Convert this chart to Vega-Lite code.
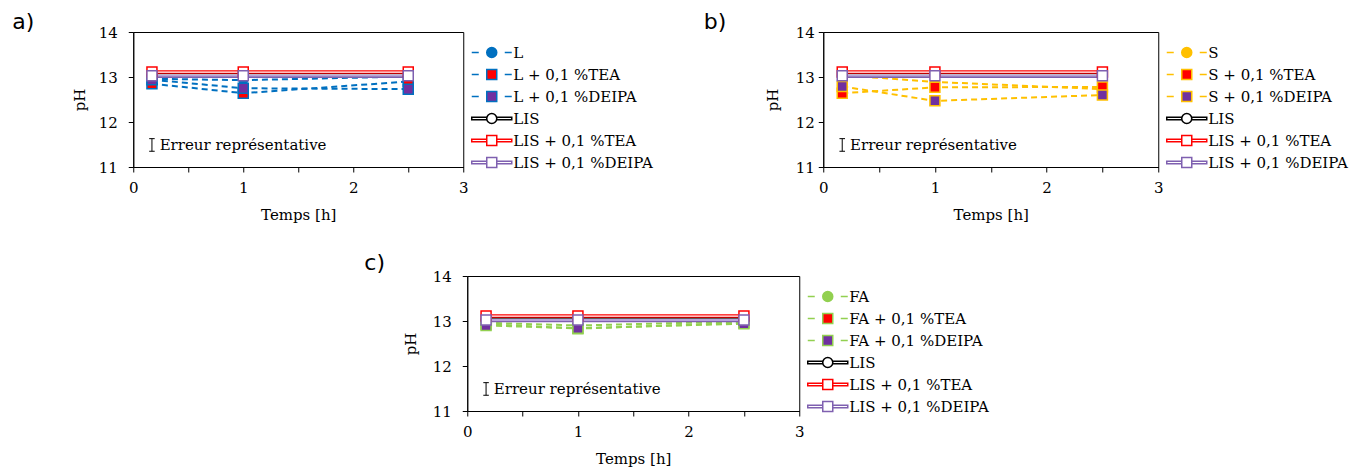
{
  "$schema": "https://vega.github.io/schema/vega-lite/v6.json",
  "background": "white",
  "padding": {"left": 11, "top": 10, "right": 0, "bottom": 0},
  "config": {
    "font": "DejaVu Serif",
    "view": {"stroke": "black", "strokeWidth": 1},
    "axis": {"grid": false, "labelFlush": false, "tickSize": 5, "domainColor": "black", "tickColor": "black", "labelColor": "black", "titleColor": "black", "labelFont": "DejaVu Serif", "labelFontSize": 15, "titleFont": "DejaVu Serif", "titleFontSize": 15, "titleFontWeight": "normal", "labelPadding": 4},
    "axisX": {"labelPadding": 8, "titlePadding": 12},
    "axisY": {"titlePadding": 13},
    "legend": {"title": null, "orient": "right", "offset": -7, "padding": 13, "labelFont": "DejaVu Serif", "labelFontSize": 15, "labelColor": "black", "symbolSize": 100, "symbolStrokeWidth": 1.5, "labelOffset": 29, "rowPadding": 5}
  },
  "datasets": {
    "ph": [
      {"panel": "a", "series": "L", "t": 0.17, "pH": 12.96},
      {"panel": "a", "series": "L", "t": 1, "pH": 12.93},
      {"panel": "a", "series": "L", "t": 2.5, "pH": 13.01},
      {"panel": "a", "series": "L + 0,1 %TEA", "t": 0.17, "pH": 12.85},
      {"panel": "a", "series": "L + 0,1 %TEA", "t": 1, "pH": 12.64},
      {"panel": "a", "series": "L + 0,1 %TEA", "t": 2.5, "pH": 12.9},
      {"panel": "a", "series": "L + 0,1 %DEIPA", "t": 0.17, "pH": 12.94},
      {"panel": "a", "series": "L + 0,1 %DEIPA", "t": 1, "pH": 12.75},
      {"panel": "a", "series": "L + 0,1 %DEIPA", "t": 2.5, "pH": 12.73},
      {"panel": "a", "series": "LIS", "t": 0.17, "pH": 13.05},
      {"panel": "a", "series": "LIS", "t": 1, "pH": 13.05},
      {"panel": "a", "series": "LIS", "t": 2.5, "pH": 13.05},
      {"panel": "a", "series": "LIS + 0,1 %TEA", "t": 0.17, "pH": 13.11},
      {"panel": "a", "series": "LIS + 0,1 %TEA", "t": 1, "pH": 13.11},
      {"panel": "a", "series": "LIS + 0,1 %TEA", "t": 2.5, "pH": 13.11},
      {"panel": "a", "series": "LIS + 0,1 %DEIPA", "t": 0.17, "pH": 13.03},
      {"panel": "a", "series": "LIS + 0,1 %DEIPA", "t": 1, "pH": 13.03},
      {"panel": "a", "series": "LIS + 0,1 %DEIPA", "t": 2.5, "pH": 13.03},
      {"panel": "b", "series": "S", "t": 0.17, "pH": 13.04},
      {"panel": "b", "series": "S", "t": 1, "pH": 12.89},
      {"panel": "b", "series": "S", "t": 2.5, "pH": 12.73},
      {"panel": "b", "series": "S + 0,1 %TEA", "t": 0.17, "pH": 12.64},
      {"panel": "b", "series": "S + 0,1 %TEA", "t": 1, "pH": 12.77},
      {"panel": "b", "series": "S + 0,1 %TEA", "t": 2.5, "pH": 12.78},
      {"panel": "b", "series": "S + 0,1 %DEIPA", "t": 0.17, "pH": 12.79},
      {"panel": "b", "series": "S + 0,1 %DEIPA", "t": 1, "pH": 12.47},
      {"panel": "b", "series": "S + 0,1 %DEIPA", "t": 2.5, "pH": 12.6},
      {"panel": "b", "series": "LIS", "t": 0.17, "pH": 13.05},
      {"panel": "b", "series": "LIS", "t": 1, "pH": 13.05},
      {"panel": "b", "series": "LIS", "t": 2.5, "pH": 13.05},
      {"panel": "b", "series": "LIS + 0,1 %TEA", "t": 0.17, "pH": 13.11},
      {"panel": "b", "series": "LIS + 0,1 %TEA", "t": 1, "pH": 13.11},
      {"panel": "b", "series": "LIS + 0,1 %TEA", "t": 2.5, "pH": 13.11},
      {"panel": "b", "series": "LIS + 0,1 %DEIPA", "t": 0.17, "pH": 13.03},
      {"panel": "b", "series": "LIS + 0,1 %DEIPA", "t": 1, "pH": 13.03},
      {"panel": "b", "series": "LIS + 0,1 %DEIPA", "t": 2.5, "pH": 13.03},
      {"panel": "c", "series": "FA", "t": 0.17, "pH": 12.96},
      {"panel": "c", "series": "FA", "t": 1, "pH": 12.9},
      {"panel": "c", "series": "FA", "t": 2.5, "pH": 12.99},
      {"panel": "c", "series": "FA + 0,1 %TEA", "t": 0.17, "pH": 12.93},
      {"panel": "c", "series": "FA + 0,1 %TEA", "t": 1, "pH": 12.83},
      {"panel": "c", "series": "FA + 0,1 %TEA", "t": 2.5, "pH": 12.96},
      {"panel": "c", "series": "FA + 0,1 %DEIPA", "t": 0.17, "pH": 12.9},
      {"panel": "c", "series": "FA + 0,1 %DEIPA", "t": 1, "pH": 12.84},
      {"panel": "c", "series": "FA + 0,1 %DEIPA", "t": 2.5, "pH": 12.94},
      {"panel": "c", "series": "LIS", "t": 0.17, "pH": 13.05},
      {"panel": "c", "series": "LIS", "t": 1, "pH": 13.05},
      {"panel": "c", "series": "LIS", "t": 2.5, "pH": 13.05},
      {"panel": "c", "series": "LIS + 0,1 %TEA", "t": 0.17, "pH": 13.11},
      {"panel": "c", "series": "LIS + 0,1 %TEA", "t": 1, "pH": 13.11},
      {"panel": "c", "series": "LIS + 0,1 %TEA", "t": 2.5, "pH": 13.11},
      {"panel": "c", "series": "LIS + 0,1 %DEIPA", "t": 0.17, "pH": 13.02},
      {"panel": "c", "series": "LIS + 0,1 %DEIPA", "t": 1, "pH": 13.02},
      {"panel": "c", "series": "LIS + 0,1 %DEIPA", "t": 2.5, "pH": 13.02}
    ]
  },
  "center": true,
  "spacing": 28,
  "resolve": {"scale": {"fill": "independent", "stroke": "independent", "shape": "independent"}, "legend": {"fill": "independent", "stroke": "independent", "shape": "independent"}},
  "vconcat": [
    {
      "hconcat": [
        {
          "width": 330, "height": 135,
          "layer": [
            {
              "data": {"name": "ph"},
              "transform": [{"filter": "datum.panel == 'a'"}],
              "encoding": {
                "x": {"field": "t", "type": "quantitative", "scale": {"domain": [0, 3], "nice": false}, "axis": {"title": "Temps [h]", "values": [0, 0.5, 1, 1.5, 2, 2.5, 3], "labelExpr": "datum.value % 1 == 0 ? format(datum.value, 'd') : ''"}},
                "y": {"field": "pH", "type": "quantitative", "scale": {"domain": [11, 14], "nice": false, "zero": false}, "axis": {"title": "pH", "titlePadding": 11, "labelPadding": 11, "values": [11, 11.5, 12, 12.5, 13, 13.5, 14], "labelExpr": "datum.value % 1 == 0 ? format(datum.value, 'd') : ''"}}
              },
              "layer": [
                {"transform": [{"filter": "false"}], "mark": {"type": "point", "filled": true, "strokeWidth": 1.5, "opacity": 1},
                 "encoding": {
                   "shape": {"field": "series", "type": "nominal", "scale": {"domain": ["L", "L + 0,1 %TEA", "L + 0,1 %DEIPA", "LIS", "LIS + 0,1 %TEA", "LIS + 0,1 %DEIPA"], "range": ["M-1,0H0.4M5.6,0H7M4,0A1,1,0,1,1,2,0A1,1,0,1,1,4,0Z", "M-1,0H0.4M5.6,0H7M2,-1H4V1H2Z", "M-1,0H0.4M5.6,0H7M2,-1H4V1H2Z", "M-1,-0.25H2V0.25H-1ZM4,-0.25H7V0.25H4ZM4,0A1,1,0,1,1,2,0A1,1,0,1,1,4,0Z", "M-1,-0.25H2V0.25H-1ZM4,-0.25H7V0.25H4ZM2,-1H4V1H2Z", "M-1,-0.25H2V0.25H-1ZM4,-0.25H7V0.25H4ZM2,-1H4V1H2Z"]}, "legend": {"labelFont": "DejaVu Serif", "labelFontSize": 15, "encode": {"symbols": {"strokeDash": {"value": [1, 0]}, "opacity": {"value": 1}}}}},
                   "fill": {"field": "series", "type": "nominal", "scale": {"domain": ["L", "L + 0,1 %TEA", "L + 0,1 %DEIPA", "LIS", "LIS + 0,1 %TEA", "LIS + 0,1 %DEIPA"], "range": ["#0070C0", "#FF0000", "#7030A0", "#FFFFFF", "#FFFFFF", "#FFFFFF"]}, "legend": {"labelFont": "DejaVu Serif", "labelFontSize": 15, "encode": {"symbols": {"strokeDash": {"value": [1, 0]}, "opacity": {"value": 1}}}}},
                   "stroke": {"field": "series", "type": "nominal", "scale": {"domain": ["L", "L + 0,1 %TEA", "L + 0,1 %DEIPA", "LIS", "LIS + 0,1 %TEA", "LIS + 0,1 %DEIPA"], "range": ["#0070C0", "#0070C0", "#0070C0", "#000000", "#FF0000", "#7F60B0"]}, "legend": {"labelFont": "DejaVu Serif", "labelFontSize": 15, "encode": {"symbols": {"strokeDash": {"value": [1, 0]}, "opacity": {"value": 1}}}}}
                 }},
                {"transform": [{"filter": "!test(/^LIS/, datum.series)"}], "mark": {"type": "line", "strokeDash": [6, 4], "strokeWidth": 2}, "encoding": {"stroke": {"field": "series", "type": "nominal"}}},
                {"transform": [{"filter": "datum.series == 'LIS + 0,1 %DEIPA'"}], "mark": {"type": "line", "strokeWidth": 4.5}, "encoding": {"stroke": {"field": "series", "type": "nominal"}}},
                {"transform": [{"filter": "datum.series == 'LIS'"}], "mark": {"type": "line", "strokeWidth": 3.5}, "encoding": {"stroke": {"field": "series", "type": "nominal"}}},
                {"transform": [{"filter": "datum.series == 'LIS + 0,1 %TEA'"}], "mark": {"type": "line", "strokeWidth": 3.5}, "encoding": {"stroke": {"field": "series", "type": "nominal"}}},
                {"transform": [{"filter": "datum.series == 'LIS' || datum.series == 'LIS + 0,1 %TEA'"}], "mark": {"type": "line", "strokeWidth": 1.2, "color": "white"}, "encoding": {"detail": {"field": "series", "type": "nominal"}}},
                {"transform": [{"filter": "datum.series == 'LIS + 0,1 %DEIPA'"}], "mark": {"type": "line", "strokeWidth": 2, "color": "#B7A2DC"}, "encoding": {}},
                {"transform": [{"filter": "datum.series == 'L'"}], "mark": {"type": "point", "shape": "circle", "filled": true, "size": 70, "strokeWidth": 1.5, "opacity": 1}, "encoding": {"fill": {"field": "series", "type": "nominal"}, "stroke": {"field": "series", "type": "nominal"}}},
                {"transform": [{"filter": "!test(/^LIS/, datum.series) && datum.series != 'L'"}], "mark": {"type": "point", "shape": "square", "filled": true, "size": 100, "strokeWidth": 1.5, "opacity": 1}, "encoding": {"fill": {"field": "series", "type": "nominal"}, "stroke": {"field": "series", "type": "nominal"}}},
                {"transform": [{"filter": "datum.series == 'LIS'"}], "mark": {"type": "point", "shape": "circle", "filled": true, "size": 70, "strokeWidth": 1.5, "opacity": 1}, "encoding": {"fill": {"field": "series", "type": "nominal"}, "stroke": {"field": "series", "type": "nominal"}}},
                {"transform": [{"filter": "test(/^LIS /, datum.series)"}], "mark": {"type": "point", "shape": "square", "filled": true, "size": 100, "strokeWidth": 1.5, "opacity": 1}, "encoding": {"fill": {"field": "series", "type": "nominal"}, "stroke": {"field": "series", "type": "nominal"}}}
              ]
            },
            {
              "data": {"values": [{"note": "Erreur représentative", "tag": "a)"}]},
              "layer": [
                {"mark": {"type": "rule", "color": "black", "strokeWidth": 1}, "encoding": {"x": {"datum": 0.17, "type": "quantitative"}, "y": {"datum": 11.35, "type": "quantitative"}, "y2": {"datum": 11.63}}},
                {"mark": {"type": "rule", "color": "black", "strokeWidth": 1}, "encoding": {"x": {"datum": 0.145, "type": "quantitative"}, "x2": {"datum": 0.195}, "y": {"datum": 11.35, "type": "quantitative"}}},
                {"mark": {"type": "rule", "color": "black", "strokeWidth": 1}, "encoding": {"x": {"datum": 0.145, "type": "quantitative"}, "x2": {"datum": 0.195}, "y": {"datum": 11.63, "type": "quantitative"}}},
                {"mark": {"type": "text", "align": "left", "baseline": "middle", "fontSize": 15, "font": "DejaVu Serif", "color": "black"}, "encoding": {"x": {"datum": 0.24, "type": "quantitative"}, "y": {"datum": 11.48, "type": "quantitative"}, "text": {"field": "note"}}},
                {"mark": {"type": "text", "align": "left", "baseline": "alphabetic", "fontSize": 22, "font": "DejaVu Sans", "color": "black"}, "encoding": {"x": {"datum": -1.1, "type": "quantitative"}, "y": {"datum": 14.07, "type": "quantitative"}, "text": {"field": "tag"}}}
              ]
            }
          ]
        },
        {
          "width": 335, "height": 135,
          "layer": [
            {
              "data": {"name": "ph"},
              "transform": [{"filter": "datum.panel == 'b'"}],
              "encoding": {
                "x": {"field": "t", "type": "quantitative", "scale": {"domain": [0, 3], "nice": false}, "axis": {"title": "Temps [h]", "values": [0, 0.5, 1, 1.5, 2, 2.5, 3], "labelExpr": "datum.value % 1 == 0 ? format(datum.value, 'd') : ''"}},
                "y": {"field": "pH", "type": "quantitative", "scale": {"domain": [11, 14], "nice": false, "zero": false}, "axis": {"title": "pH", "titlePadding": 15, "values": [11, 11.5, 12, 12.5, 13, 13.5, 14], "labelExpr": "datum.value % 1 == 0 ? format(datum.value, 'd') : ''"}}
              },
              "layer": [
                {"transform": [{"filter": "false"}], "mark": {"type": "point", "filled": true, "strokeWidth": 1.5, "opacity": 1},
                 "encoding": {
                   "shape": {"field": "series", "type": "nominal", "scale": {"domain": ["S", "S + 0,1 %TEA", "S + 0,1 %DEIPA", "LIS", "LIS + 0,1 %TEA", "LIS + 0,1 %DEIPA"], "range": ["M-1,0H0.4M5.6,0H7M4,0A1,1,0,1,1,2,0A1,1,0,1,1,4,0Z", "M-1,0H0.4M5.6,0H7M2,-1H4V1H2Z", "M-1,0H0.4M5.6,0H7M2,-1H4V1H2Z", "M-1,-0.25H2V0.25H-1ZM4,-0.25H7V0.25H4ZM4,0A1,1,0,1,1,2,0A1,1,0,1,1,4,0Z", "M-1,-0.25H2V0.25H-1ZM4,-0.25H7V0.25H4ZM2,-1H4V1H2Z", "M-1,-0.25H2V0.25H-1ZM4,-0.25H7V0.25H4ZM2,-1H4V1H2Z"]}, "legend": {"labelFont": "DejaVu Serif", "labelFontSize": 15, "encode": {"symbols": {"strokeDash": {"value": [1, 0]}, "opacity": {"value": 1}}}}},
                   "fill": {"field": "series", "type": "nominal", "scale": {"domain": ["S", "S + 0,1 %TEA", "S + 0,1 %DEIPA", "LIS", "LIS + 0,1 %TEA", "LIS + 0,1 %DEIPA"], "range": ["#FFC000", "#FF0000", "#7030A0", "#FFFFFF", "#FFFFFF", "#FFFFFF"]}, "legend": {"labelFont": "DejaVu Serif", "labelFontSize": 15, "encode": {"symbols": {"strokeDash": {"value": [1, 0]}, "opacity": {"value": 1}}}}},
                   "stroke": {"field": "series", "type": "nominal", "scale": {"domain": ["S", "S + 0,1 %TEA", "S + 0,1 %DEIPA", "LIS", "LIS + 0,1 %TEA", "LIS + 0,1 %DEIPA"], "range": ["#FFC000", "#FFC000", "#FFC000", "#000000", "#FF0000", "#7F60B0"]}, "legend": {"labelFont": "DejaVu Serif", "labelFontSize": 15, "encode": {"symbols": {"strokeDash": {"value": [1, 0]}, "opacity": {"value": 1}}}}}
                 }},
                {"transform": [{"filter": "!test(/^LIS/, datum.series)"}], "mark": {"type": "line", "strokeDash": [6, 4], "strokeWidth": 2}, "encoding": {"stroke": {"field": "series", "type": "nominal"}}},
                {"transform": [{"filter": "datum.series == 'LIS + 0,1 %DEIPA'"}], "mark": {"type": "line", "strokeWidth": 4.5}, "encoding": {"stroke": {"field": "series", "type": "nominal"}}},
                {"transform": [{"filter": "datum.series == 'LIS'"}], "mark": {"type": "line", "strokeWidth": 3.5}, "encoding": {"stroke": {"field": "series", "type": "nominal"}}},
                {"transform": [{"filter": "datum.series == 'LIS + 0,1 %TEA'"}], "mark": {"type": "line", "strokeWidth": 3.5}, "encoding": {"stroke": {"field": "series", "type": "nominal"}}},
                {"transform": [{"filter": "datum.series == 'LIS' || datum.series == 'LIS + 0,1 %TEA'"}], "mark": {"type": "line", "strokeWidth": 1.2, "color": "white"}, "encoding": {"detail": {"field": "series", "type": "nominal"}}},
                {"transform": [{"filter": "datum.series == 'LIS + 0,1 %DEIPA'"}], "mark": {"type": "line", "strokeWidth": 2, "color": "#B7A2DC"}, "encoding": {}},
                {"transform": [{"filter": "datum.series == 'S'"}], "mark": {"type": "point", "shape": "circle", "filled": true, "size": 70, "strokeWidth": 1.5, "opacity": 1}, "encoding": {"fill": {"field": "series", "type": "nominal"}, "stroke": {"field": "series", "type": "nominal"}}},
                {"transform": [{"filter": "!test(/^LIS/, datum.series) && datum.series != 'S'"}], "mark": {"type": "point", "shape": "square", "filled": true, "size": 100, "strokeWidth": 1.5, "opacity": 1}, "encoding": {"fill": {"field": "series", "type": "nominal"}, "stroke": {"field": "series", "type": "nominal"}}},
                {"transform": [{"filter": "datum.series == 'LIS'"}], "mark": {"type": "point", "shape": "circle", "filled": true, "size": 70, "strokeWidth": 1.5, "opacity": 1}, "encoding": {"fill": {"field": "series", "type": "nominal"}, "stroke": {"field": "series", "type": "nominal"}}},
                {"transform": [{"filter": "test(/^LIS /, datum.series)"}], "mark": {"type": "point", "shape": "square", "filled": true, "size": 100, "strokeWidth": 1.5, "opacity": 1}, "encoding": {"fill": {"field": "series", "type": "nominal"}, "stroke": {"field": "series", "type": "nominal"}}}
              ]
            },
            {
              "data": {"values": [{"note": "Erreur représentative", "tag": "b)"}]},
              "layer": [
                {"mark": {"type": "rule", "color": "black", "strokeWidth": 1}, "encoding": {"x": {"datum": 0.17, "type": "quantitative"}, "y": {"datum": 11.35, "type": "quantitative"}, "y2": {"datum": 11.63}}},
                {"mark": {"type": "rule", "color": "black", "strokeWidth": 1}, "encoding": {"x": {"datum": 0.145, "type": "quantitative"}, "x2": {"datum": 0.195}, "y": {"datum": 11.35, "type": "quantitative"}}},
                {"mark": {"type": "rule", "color": "black", "strokeWidth": 1}, "encoding": {"x": {"datum": 0.145, "type": "quantitative"}, "x2": {"datum": 0.195}, "y": {"datum": 11.63, "type": "quantitative"}}},
                {"mark": {"type": "text", "align": "left", "baseline": "middle", "fontSize": 15, "font": "DejaVu Serif", "color": "black"}, "encoding": {"x": {"datum": 0.24, "type": "quantitative"}, "y": {"datum": 11.48, "type": "quantitative"}, "text": {"field": "note"}}},
                {"mark": {"type": "text", "align": "left", "baseline": "alphabetic", "fontSize": 22, "font": "DejaVu Sans", "color": "black"}, "encoding": {"x": {"datum": -1.07, "type": "quantitative"}, "y": {"datum": 14.07, "type": "quantitative"}, "text": {"field": "tag"}}}
              ]
            }
          ]
        }
      ],
      "spacing": 36,
      "resolve": {"scale": {"fill": "independent", "stroke": "independent", "shape": "independent"}, "legend": {"fill": "independent", "stroke": "independent", "shape": "independent"}}
    },
    {
      "width": 332, "height": 135,
      "layer": [
        {
          "data": {"name": "ph"},
          "transform": [{"filter": "datum.panel == 'c'"}],
          "encoding": {
            "x": {"field": "t", "type": "quantitative", "scale": {"domain": [0, 3], "nice": false}, "axis": {"title": "Temps [h]", "values": [0, 0.5, 1, 1.5, 2, 2.5, 3], "labelExpr": "datum.value % 1 == 0 ? format(datum.value, 'd') : ''"}},
            "y": {"field": "pH", "type": "quantitative", "scale": {"domain": [11, 14], "nice": false, "zero": false}, "axis": {"title": "pH", "titlePadding": 14, "labelPadding": 11, "values": [11, 11.5, 12, 12.5, 13, 13.5, 14], "labelExpr": "datum.value % 1 == 0 ? format(datum.value, 'd') : ''"}}
          },
          "layer": [
            {"transform": [{"filter": "false"}], "mark": {"type": "point", "filled": true, "strokeWidth": 1.5, "opacity": 1},
             "encoding": {
               "shape": {"field": "series", "type": "nominal", "scale": {"domain": ["FA", "FA + 0,1 %TEA", "FA + 0,1 %DEIPA", "LIS", "LIS + 0,1 %TEA", "LIS + 0,1 %DEIPA"], "range": ["M-1,0H0.4M5.6,0H7M4,0A1,1,0,1,1,2,0A1,1,0,1,1,4,0Z", "M-1,0H0.4M5.6,0H7M2,-1H4V1H2Z", "M-1,0H0.4M5.6,0H7M2,-1H4V1H2Z", "M-1,-0.25H2V0.25H-1ZM4,-0.25H7V0.25H4ZM4,0A1,1,0,1,1,2,0A1,1,0,1,1,4,0Z", "M-1,-0.25H2V0.25H-1ZM4,-0.25H7V0.25H4ZM2,-1H4V1H2Z", "M-1,-0.25H2V0.25H-1ZM4,-0.25H7V0.25H4ZM2,-1H4V1H2Z"]}, "legend": {"labelFont": "DejaVu Serif", "labelFontSize": 15, "encode": {"symbols": {"strokeDash": {"value": [1, 0]}, "opacity": {"value": 1}}}}},
               "fill": {"field": "series", "type": "nominal", "scale": {"domain": ["FA", "FA + 0,1 %TEA", "FA + 0,1 %DEIPA", "LIS", "LIS + 0,1 %TEA", "LIS + 0,1 %DEIPA"], "range": ["#92D050", "#FF0000", "#7030A0", "#FFFFFF", "#FFFFFF", "#FFFFFF"]}, "legend": {"labelFont": "DejaVu Serif", "labelFontSize": 15, "encode": {"symbols": {"strokeDash": {"value": [1, 0]}, "opacity": {"value": 1}}}}},
               "stroke": {"field": "series", "type": "nominal", "scale": {"domain": ["FA", "FA + 0,1 %TEA", "FA + 0,1 %DEIPA", "LIS", "LIS + 0,1 %TEA", "LIS + 0,1 %DEIPA"], "range": ["#92D050", "#92D050", "#92D050", "#000000", "#FF0000", "#7F60B0"]}, "legend": {"labelFont": "DejaVu Serif", "labelFontSize": 15, "encode": {"symbols": {"strokeDash": {"value": [1, 0]}, "opacity": {"value": 1}}}}}
             }},
            {"transform": [{"filter": "!test(/^LIS/, datum.series)"}], "mark": {"type": "line", "strokeDash": [6, 4], "strokeWidth": 2}, "encoding": {"stroke": {"field": "series", "type": "nominal"}}},
            {"transform": [{"filter": "datum.series == 'LIS + 0,1 %DEIPA'"}], "mark": {"type": "line", "strokeWidth": 4.5}, "encoding": {"stroke": {"field": "series", "type": "nominal"}}},
            {"transform": [{"filter": "datum.series == 'LIS'"}], "mark": {"type": "line", "strokeWidth": 3.5}, "encoding": {"stroke": {"field": "series", "type": "nominal"}}},
            {"transform": [{"filter": "datum.series == 'LIS + 0,1 %TEA'"}], "mark": {"type": "line", "strokeWidth": 3.5}, "encoding": {"stroke": {"field": "series", "type": "nominal"}}},
            {"transform": [{"filter": "datum.series == 'LIS'"}], "mark": {"type": "line", "strokeWidth": 1.2, "color": "#7F7F7F"}, "encoding": {}},
            {"transform": [{"filter": "datum.series == 'LIS + 0,1 %TEA'"}], "mark": {"type": "line", "strokeWidth": 1.2, "color": "white"}, "encoding": {}},
            {"transform": [{"filter": "datum.series == 'LIS + 0,1 %DEIPA'"}], "mark": {"type": "line", "strokeWidth": 2, "color": "#B7A2DC"}, "encoding": {}},
            {"transform": [{"filter": "datum.series == 'FA'"}], "mark": {"type": "point", "shape": "circle", "filled": true, "size": 70, "strokeWidth": 1.5, "opacity": 1}, "encoding": {"fill": {"field": "series", "type": "nominal"}, "stroke": {"field": "series", "type": "nominal"}}},
            {"transform": [{"filter": "!test(/^LIS/, datum.series) && datum.series != 'FA'"}], "mark": {"type": "point", "shape": "square", "filled": true, "size": 100, "strokeWidth": 1.5, "opacity": 1}, "encoding": {"fill": {"field": "series", "type": "nominal"}, "stroke": {"field": "series", "type": "nominal"}}},
            {"transform": [{"filter": "datum.series == 'LIS'"}], "mark": {"type": "point", "shape": "circle", "filled": true, "size": 70, "strokeWidth": 1.5, "opacity": 1}, "encoding": {"fill": {"field": "series", "type": "nominal"}, "stroke": {"field": "series", "type": "nominal"}}},
            {"transform": [{"filter": "test(/^LIS /, datum.series)"}], "mark": {"type": "point", "shape": "square", "filled": true, "size": 100, "strokeWidth": 1.5, "opacity": 1}, "encoding": {"fill": {"field": "series", "type": "nominal"}, "stroke": {"field": "series", "type": "nominal"}}}
          ]
        },
        {
          "data": {"values": [{"note": "Erreur représentative", "tag": "c)", "pad": "."}]},
          "layer": [
            {"mark": {"type": "rule", "color": "black", "strokeWidth": 1}, "encoding": {"x": {"datum": 0.17, "type": "quantitative"}, "y": {"datum": 11.35, "type": "quantitative"}, "y2": {"datum": 11.63}}},
            {"mark": {"type": "rule", "color": "black", "strokeWidth": 1}, "encoding": {"x": {"datum": 0.145, "type": "quantitative"}, "x2": {"datum": 0.195}, "y": {"datum": 11.35, "type": "quantitative"}}},
            {"mark": {"type": "rule", "color": "black", "strokeWidth": 1}, "encoding": {"x": {"datum": 0.145, "type": "quantitative"}, "x2": {"datum": 0.195}, "y": {"datum": 11.63, "type": "quantitative"}}},
            {"mark": {"type": "text", "align": "left", "baseline": "middle", "fontSize": 15, "font": "DejaVu Serif", "color": "black"}, "encoding": {"x": {"datum": 0.24, "type": "quantitative"}, "y": {"datum": 11.48, "type": "quantitative"}, "text": {"field": "note"}}},
            {"mark": {"type": "text", "align": "left", "baseline": "alphabetic", "fontSize": 22, "font": "DejaVu Sans", "color": "black"}, "encoding": {"x": {"datum": -0.93, "type": "quantitative"}, "y": {"datum": 14.13, "type": "quantitative"}, "text": {"field": "tag"}}},
            {"mark": {"type": "text", "align": "right", "baseline": "middle", "fontSize": 15, "opacity": 0}, "encoding": {"x": {"datum": 5.06, "type": "quantitative"}, "y": {"datum": 12.5, "type": "quantitative"}, "text": {"field": "pad"}}}
          ]
        }
      ]
    }
  ]
}
